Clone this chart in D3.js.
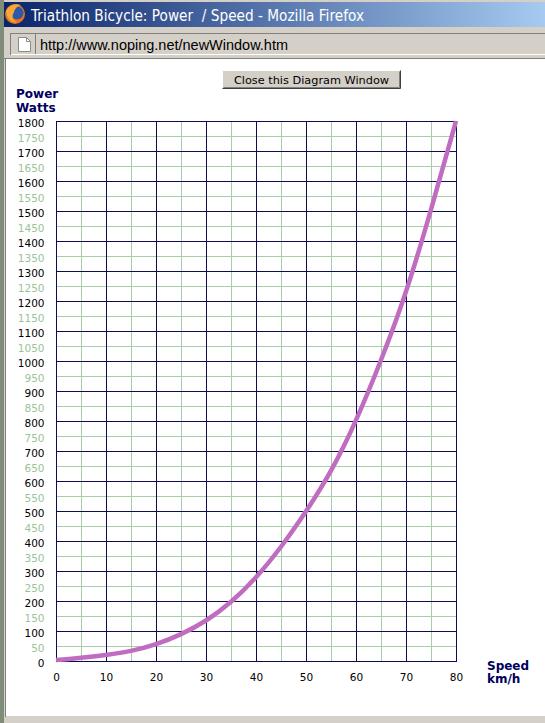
<!DOCTYPE html>
<html>
<head>
<meta charset="utf-8">
<title>Triathlon Bicycle: Power / Speed</title>
<script src="https://cdn.jsdelivr.net/npm/d3@7"></script>
<style>
    html, body { margin: 0; padding: 0; background: #d4d0c8; overflow: hidden; }
    svg { display: block; }
</style>
</head>
<body>
<svg id="win" width="545" height="723"></svg>
<script>
// chart data
var speed = [0, 5, 10, 15, 20, 25, 30, 35, 40, 45, 50, 55, 60, 65, 70, 75, 80];
var power = [3, 10, 20, 32, 54, 88, 132, 194, 276, 378, 497, 628, 797, 1000, 1222, 1502, 1800];

var xTickLabels = [0, 10, 20, 30, 40, 50, 60, 70, 80];
var xMinor = [5, 15, 25, 35, 45, 55, 65, 75];
var yTickLabels = d3.range(0, 1801, 50);

var windowTitle = "Triathlon Bicycle: Power  / Speed - Mozilla Firefox";
var pageUrl = "http://www.noping.net/newWindow.htm";
var buttonText = "Close this Diagram Window";

var svg = d3.select("#win");
var W = 545, H = 723;

//
// window chrome: desktop strip, title bar, address bar, content area
//
var defs = svg.append("defs");
var grad = defs.append("linearGradient").attr("id", "titlegrad")
               .attr("x1", "0%").attr("x2", "100%");
grad.append("stop").attr("offset", "0%").attr("stop-color", "#0a246a");
grad.append("stop").attr("offset", "100%").attr("stop-color", "#a6caf0");

svg.append("rect").attr("x", 0).attr("y", 0).attr("width", W).attr("height", H)
   .attr("fill", "#d4d0c8");
svg.append("rect").attr("x", 0).attr("y", 0).attr("width", 4).attr("height", H)
   .attr("fill", "#7f8c7a");
svg.append("rect").attr("x", 4).attr("y", 2).attr("width", W - 4).attr("height", 25)
   .attr("fill", "url(#titlegrad)");

// firefox icon
var icon = svg.append("g").attr("transform", "translate(15,14)");
icon.append("circle").attr("r", 10).attr("fill", "#e8731c");
icon.append("circle").attr("cx", 2).attr("cy", -1).attr("r", 6.5).attr("fill", "#2a5aa8");
icon.append("path").attr("d", "M-9,-3 Q-4,-12 6,-9 Q0,-7 -1,-2 Q-5,4 2,9 Q-8,8 -9,-3Z")
    .attr("fill", "#f6a93a");

svg.append("text").attr("x", 31).attr("y", 20.5)
   .attr("font-family", "'DejaVu Sans', sans-serif").attr("font-size", 15)
   .attr("fill", "#ffffff")
   .attr("textLength", 333).attr("lengthAdjust", "spacingAndGlyphs")
   .style("white-space", "pre")
   .text(windowTitle);

// address field
svg.append("rect").attr("x", 10.5).attr("y", 33.5).attr("width", W).attr("height", 21)
   .attr("fill", "#d4d0c8").attr("stroke", "#808080");
svg.append("line").attr("x1", 11).attr("x2", W).attr("y1", 54.5).attr("y2", 54.5)
   .attr("stroke", "#ffffff");
svg.append("line").attr("x1", 35.5).attr("x2", 35.5).attr("y1", 34).attr("y2", 54)
   .attr("stroke", "#808080");
svg.append("path").attr("d", "M18.5,37.5 H26.5 L30.5,41.5 V51.5 H18.5 Z")
   .attr("fill", "#ffffff").attr("stroke", "#8c8c8c");
svg.append("path").attr("d", "M26.5,37.5 V41.5 H30.5")
   .attr("fill", "none").attr("stroke", "#8c8c8c");
svg.append("text").attr("x", 40).attr("y", 49.5)
   .attr("font-family", "'Liberation Sans', Arial, sans-serif").attr("font-size", 15)
   .attr("fill", "#000000")
   .attr("textLength", 248).attr("lengthAdjust", "spacingAndGlyphs")
   .text(pageUrl);

// content area
svg.append("line").attr("x1", 4).attr("x2", W).attr("y1", 58.5).attr("y2", 58.5)
   .attr("stroke", "#808080");
svg.append("rect").attr("x", 6).attr("y", 59).attr("width", W - 6).attr("height", 657)
   .attr("fill", "#ffffff");
svg.append("line").attr("x1", 5.5).attr("x2", 5.5).attr("y1", 59).attr("y2", 717)
   .attr("stroke", "#808080");

// close button
var btn = svg.append("g").attr("transform", "translate(222,70)");
btn.append("rect").attr("width", 179).attr("height", 19).attr("fill", "#d4d0c8");
btn.append("path").attr("d", "M0.5,18.5 V0.5 H178.5").attr("fill", "none").attr("stroke", "#ffffff");
btn.append("path").attr("d", "M0.5,18.5 H178.5 V0.5").attr("fill", "none").attr("stroke", "#404040");
btn.append("path").attr("d", "M1.5,17.5 H177.5 V1.5").attr("fill", "none").attr("stroke", "#808080");
btn.append("text").attr("x", 89.5).attr("y", 13.5).attr("text-anchor", "middle")
   .attr("font-family", "'DejaVu Sans', Verdana, sans-serif").attr("font-size", 11.3)
   .attr("fill", "#000000").text(buttonText);

//
// the diagram
//
var x = d3.scaleLinear().domain([0, 80]).range([56, 456]);
var y = d3.scaleLinear().domain([0, 1800]).range([661, 121]);

var dark = "#0c0c50";
var green = "#a8cca8";
var labelFont = "'DejaVu Sans', Verdana, sans-serif";

var plot = svg.append("g");

// minor grid (green)
plot.selectAll("line.hminor")
    .data(yTickLabels.filter(function(v) { return v % 100 != 0; }))
    .enter().append("line")
    .attr("x1", x(0)).attr("x2", x(80))
    .attr("y1", function(d) { return Math.round(y(d)) + 0.5; })
    .attr("y2", function(d) { return Math.round(y(d)) + 0.5; })
    .attr("stroke", green);
plot.selectAll("line.vminor")
    .data(xMinor)
    .enter().append("line")
    .attr("y1", y(0)).attr("y2", y(1800))
    .attr("x1", function(d) { return Math.round(x(d)) + 0.5; })
    .attr("x2", function(d) { return Math.round(x(d)) + 0.5; })
    .attr("stroke", green);

// major grid (dark)
plot.selectAll("line.hmajor")
    .data(yTickLabels.filter(function(v) { return v % 100 == 0; }))
    .enter().append("line")
    .attr("x1", x(0)).attr("x2", x(80) + 1)
    .attr("y1", function(d) { return Math.round(y(d)) + 0.5; })
    .attr("y2", function(d) { return Math.round(y(d)) + 0.5; })
    .attr("stroke", dark);
plot.selectAll("line.vmajor")
    .data(xTickLabels)
    .enter().append("line")
    .attr("y1", y(0) + 1).attr("y2", y(1800))
    .attr("x1", function(d) { return Math.round(x(d)) + 0.5; })
    .attr("x2", function(d) { return Math.round(x(d)) + 0.5; })
    .attr("stroke", dark);

// y tick labels: hundreds black, fifties green
plot.selectAll("text.ylab")
    .data(yTickLabels)
    .enter().append("text")
    .attr("x", 44.5)
    .attr("y", function(d) { return y(d) + 5.5; })
    .attr("text-anchor", "end")
    .attr("font-family", labelFont).attr("font-size", 10.5)
    .attr("fill", function(d) { return d % 100 == 0 ? "#000000" : "#99c499"; })
    .text(function(d) { return d; });

// x tick labels
plot.selectAll("text.xlab")
    .data(xTickLabels)
    .enter().append("text")
    .attr("x", function(d) { return x(d) + 0.5; })
    .attr("y", 680.5)
    .attr("text-anchor", "middle")
    .attr("font-family", labelFont).attr("font-size", 10.5)
    .attr("fill", "#000000")
    .text(function(d) { return d; });

// axis titles
var titleColor = "#000060";
[["Power", 16, 98], ["Watts", 16, 111.5], ["Speed", 487, 669.5], ["km/h", 487, 682.5]]
    .forEach(function(t) {
        plot.append("text").attr("x", t[1]).attr("y", t[2])
            .attr("font-family", labelFont).attr("font-size", 12)
            .attr("font-weight", "bold").attr("fill", titleColor)
            .text(t[0]);
    });

// power curve
var pts = speed.map(function(s, i) { return [s, power[i]]; });
var line = d3.line()
    .x(function(d) { return x(d[0]); })
    .y(function(d) { return y(d[1]); })
    .curve(d3.curveBasis);
plot.append("path")
    .datum(pts)
    .attr("d", line)
    .attr("fill", "none")
    .attr("stroke", "#c06cc0")
    .attr("stroke-width", 4.5)
    .attr("stroke-linecap", "butt");
</script>
</body>
</html>
